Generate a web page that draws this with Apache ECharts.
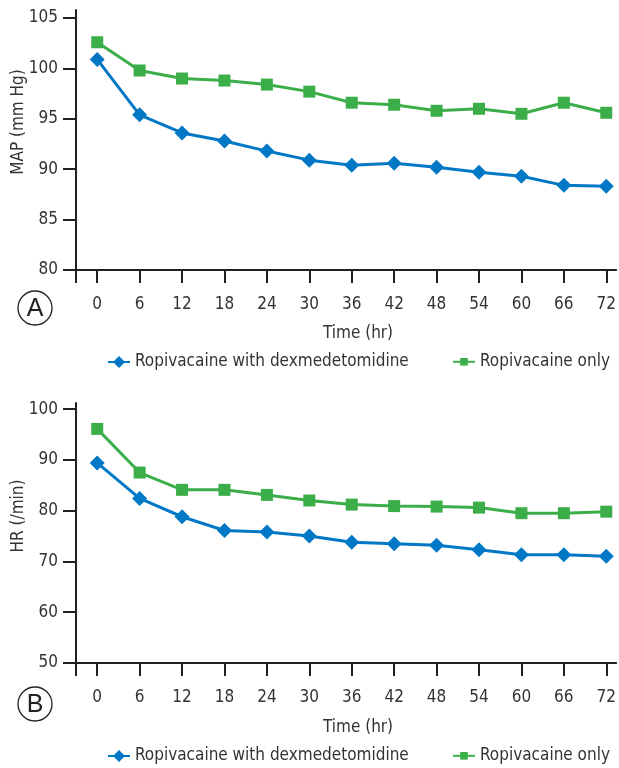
<!DOCTYPE html>
<html>
<head>
<meta charset="utf-8">
<script src="https://cdn.jsdelivr.net/npm/echarts@6/dist/echarts.min.js"></script>
<style>
html,body{margin:0;padding:0;background:#fff;}
#c{width:619px;height:768px;}
</style>
</head>
<body>
<div id="c"></div>
<script>
var hours = [0, 6, 12, 18, 24, 30, 36, 42, 48, 54, 60, 66, 72];
var xTickValues = [-3, 0, 6, 12, 18, 24, 30, 36, 42, 48, 54, 60, 66, 72];
var mapTicks = [80, 85, 90, 95, 100, 105];
var hrTicks = [50, 60, 70, 80, 90, 100];
var seriesNames = ['Ropivacaine with dexmedetomidine', 'Ropivacaine only'];
var mapDex = [100.9, 95.4, 93.6, 92.8, 91.8, 90.9, 90.4, 90.6, 90.2, 89.7, 89.3, 88.4, 88.3];
var mapOnly = [102.6, 99.8, 99.0, 98.8, 98.4, 97.7, 96.6, 96.4, 95.8, 96.0, 95.5, 96.6, 95.6];
var hrDex = [89.4, 82.4, 78.8, 76.1, 75.8, 75.0, 73.8, 73.5, 73.2, 72.3, 71.3, 71.3, 71.0];
var hrOnly = [96.1, 87.5, 84.1, 84.1, 83.1, 82.0, 81.2, 80.9, 80.8, 80.6, 79.5, 79.5, 79.8];

var FONT = "'DejaVu Sans Condensed', 'Liberation Sans Narrow', sans-serif";
var FS = 17;
var TXT = '#333333';
var AX = '#231f20';
var BLUE = '#0078c6';
var GREEN = '#3cae49';

function pairs(v) { return hours.map(function (h, i) { return [h, v[i]]; }); }

function xAxisFor(gi) {
  return {
    type: 'value', gridIndex: gi, min: -3, max: 73.4,
    axisLine: { show: true, onZero: false, lineStyle: { color: AX, width: 2 } },
    axisTick: { show: true, customValues: xTickValues, length: 13, lineStyle: { color: AX, width: 2 } },
    axisLabel: { customValues: hours, margin: 26, color: TXT, fontSize: FS, fontFamily: FONT },
    splitLine: { show: false }
  };
}
function yAxisFor(gi, min, max, ticks) {
  return {
    type: 'value', gridIndex: gi, min: min, max: max,
    axisLine: { show: true, onZero: false, lineStyle: { color: AX, width: 2 } },
    axisTick: { show: true, customValues: ticks, length: 13, lineStyle: { color: AX, width: 2 } },
    axisLabel: { customValues: ticks, margin: 18, color: TXT, fontSize: FS, fontFamily: FONT },
    splitLine: { show: false }
  };
}
function lineSeries(name, data, gi, color, symbol, size) {
  return {
    type: 'line', name: name, xAxisIndex: gi, yAxisIndex: gi,
    data: pairs(data), symbol: symbol, symbolSize: size,
    lineStyle: { color: color, width: 3 }, itemStyle: { color: color },
    emphasis: { disabled: true }, animation: false
  };
}
function legendAt(name, left, top, ih) {
  return {
    data: [name], left: left, top: top, padding: 0, itemWidth: 22, itemHeight: ih,
    textStyle: { color: TXT, fontSize: FS, fontFamily: FONT },
    selectedMode: false
  };
}

var chart = echarts.init(document.getElementById('c'), null, { renderer: 'canvas' });
chart.setOption({
  backgroundColor: '#ffffff',
  animation: false,
  grid: [
    { left: 76, right: 0, top: 10, height: 260, containLabel: false },
    { left: 76, right: 0, top: 403, height: 260, containLabel: false }
  ],
  xAxis: [xAxisFor(0), xAxisFor(1)],
  yAxis: [yAxisFor(0, 80, 105.8, mapTicks), yAxisFor(1, 50, 101.2, hrTicks)],
  legend: [
    legendAt(seriesNames[0], 107, 353.5, 15),
    legendAt(seriesNames[1], 452, 353.3, 9.5),
    legendAt(seriesNames[0], 107, 747.5, 15),
    legendAt(seriesNames[1], 452, 747.3, 9.5)
  ],
  series: [
    lineSeries(seriesNames[0], mapDex, 0, BLUE, 'diamond', 15),
    lineSeries(seriesNames[1], mapOnly, 0, GREEN, 'rect', 12),
    lineSeries(seriesNames[0], hrDex, 1, BLUE, 'diamond', 15),
    lineSeries(seriesNames[1], hrOnly, 1, GREEN, 'rect', 12)
  ],
  graphic: [
    { type: 'text', x: 19, y: 122, rotation: Math.PI / 2,
      style: { text: 'MAP (mm Hg)', fill: TXT, font: FS + 'px ' + FONT, align: 'center', verticalAlign: 'middle' } },
    { type: 'text', x: 19, y: 516, rotation: Math.PI / 2,
      style: { text: 'HR (/min)', fill: TXT, font: FS + 'px ' + FONT, align: 'center', verticalAlign: 'middle' } },
    { type: 'text', x: 358, y: 334,
      style: { text: 'Time (hr)', fill: TXT, font: FS + 'px ' + FONT, align: 'center', verticalAlign: 'middle' } },
    { type: 'text', x: 358, y: 728,
      style: { text: 'Time (hr)', fill: TXT, font: FS + 'px ' + FONT, align: 'center', verticalAlign: 'middle' } },
    { type: 'circle', shape: { cx: 35, cy: 308, r: 17 }, style: { fill: 'none', stroke: '#222', lineWidth: 1.3 } },
    { type: 'text', x: 35, y: 309,
      style: { text: 'A', fill: '#222', font: '25px "Liberation Sans", Arial, sans-serif', align: 'center', verticalAlign: 'middle' } },
    { type: 'circle', shape: { cx: 35, cy: 704, r: 17 }, style: { fill: 'none', stroke: '#222', lineWidth: 1.3 } },
    { type: 'text', x: 35, y: 705,
      style: { text: 'B', fill: '#222', font: '25px "Liberation Sans", Arial, sans-serif', align: 'center', verticalAlign: 'middle' } }
  ]
});
</script>
</body>
</html>
